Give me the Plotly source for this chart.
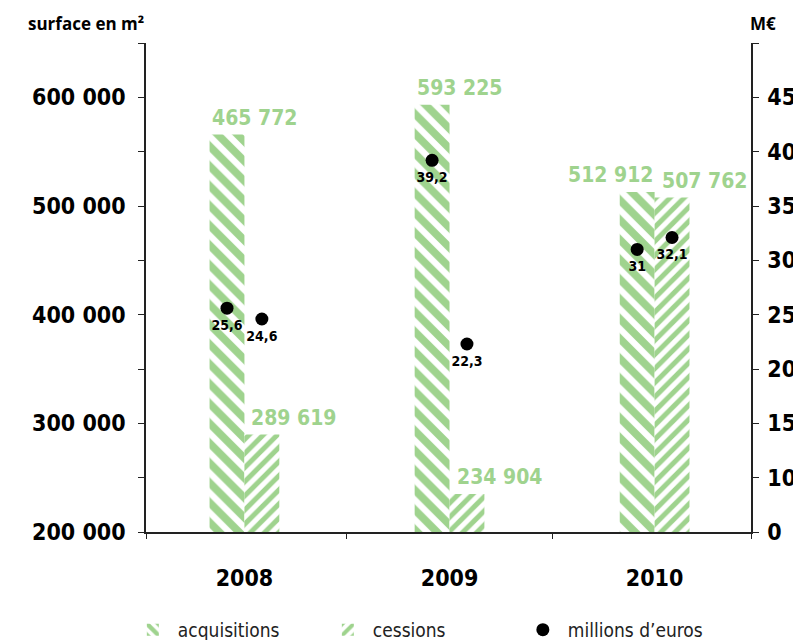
import plotly.graph_objects as go

# ---- data ----
years = ["2008", "2009", "2010"]
acquisitions = [565772, 593225, 512912]          # bar heights as drawn
acq_labels = ["465 772", "593 225", "512 912"]    # labels as printed
cessions = [289619, 234904, 507762]
cess_labels = ["289 619", "234 904", "507 762"]
acq_meur = [25.6, 39.2, 31.0]
cess_meur = [24.6, 22.3, 32.1]
acq_meur_labels = ["25,6", "39,2", "31"]
cess_meur_labels = ["24,6", "22,3", "32,1"]

left_ticks = [200000, 250000, 300000, 350000, 400000, 450000, 500000, 550000, 600000, 650000]
left_ticktext = ["200 000", "", "300 000", "", "400 000", "", "500 000", "", "600 000", ""]
right_ticks = [5, 10, 15, 20, 25, 30, 35, 40, 45, 50]
right_ticktext = ["0", "10", "15", "20", "25", "30", "35", "40", "45", ""]

GREEN = "#9fd38e"
NUM_FONT = "'DejaVu Sans Condensed', 'DejaVu Sans', sans-serif"
TXT_FONT = "'DejaVu Sans Condensed', 'Liberation Sans', sans-serif"
w = 0.17
idx = list(range(len(years)))
x_acq = [i - w / 2 for i in idx]
x_cess = [i + w / 2 for i in idx]

fig = go.Figure()
fig.add_trace(go.Bar(
    x=x_acq, y=acquisitions, width=w, name="acquisitions",
    marker=dict(color=GREEN, line=dict(width=0),
                pattern=dict(shape="\\", fgcolor=GREEN, bgcolor="white",
                             size=14, solidity=0.55, fillmode="replace")),
    hoverinfo="skip",
))
fig.add_trace(go.Bar(
    x=x_cess, y=cessions, width=w, name="cessions",
    marker=dict(color=GREEN, line=dict(width=0),
                pattern=dict(shape="/", fgcolor=GREEN, bgcolor="white",
                             size=10, solidity=0.5, fillmode="replace")),
    hoverinfo="skip",
))
fig.add_trace(go.Scatter(
    x=x_acq + x_cess, y=acq_meur + cess_meur, yaxis="y2",
    mode="markers", name="millions d’euros",
    marker=dict(color="black", size=13),
    hoverinfo="skip",
))
fig.add_trace(go.Scatter(
    x=x_acq + x_cess, y=acq_meur + cess_meur, yaxis="y2",
    mode="markers+text", showlegend=False,
    marker=dict(color="rgba(0,0,0,0)", size=16),
    text=acq_meur_labels + cess_meur_labels, textposition="bottom center",
    textfont=dict(family=NUM_FONT, size=14, color="black", weight="bold"),
    hoverinfo="skip",
))

annotations = []
acq_anchor = ["left", "left", "right"]
for i in idx:
    ax = i - w if acq_anchor[i] == "left" else i
    annotations.append(dict(
        x=ax, y=acquisitions[i], xref="x", yref="y", text=acq_labels[i],
        xanchor=acq_anchor[i], yanchor="bottom", showarrow=False, yshift=3,
        font=dict(family=NUM_FONT, size=21, color=GREEN, weight="bold")))
    annotations.append(dict(
        x=i, y=cessions[i], xref="x", yref="y", text=cess_labels[i],
        xanchor="left", yanchor="bottom", showarrow=False, yshift=3, xshift=5,
        font=dict(family=NUM_FONT, size=21, color=GREEN, weight="bold")))

annotations.append(dict(
    x=0, y=1.039, xref="paper", yref="paper", text="surface en m²",
    xanchor="right", yanchor="middle", showarrow=False,
    font=dict(family="Open Sans", size=17, color="black", weight="bold")))
annotations.append(dict(
    x=1, y=1.039, xref="paper", yref="paper", text="M€",
    xanchor="left", yanchor="middle", showarrow=False, xshift=-3,
    font=dict(family="Open Sans", size=17, color="black", weight="bold")))

fig.update_layout(
    width=793, height=632,
    margin=dict(l=138, r=50, t=35, b=108, autoexpand=False),
    plot_bgcolor="white", paper_bgcolor="white",
    barmode="overlay",
    showlegend=True,
    legend=dict(orientation="h", x=-0.03, xanchor="left", y=-0.2, yanchor="middle",
                font=dict(family=TXT_FONT, size=19, color="#222"),
                entrywidth=140, entrywidthmode="pixels", traceorder="normal",
                itemwidth=40),
    xaxis=dict(range=[-0.48, 2.47], tickvals=idx, ticktext=years,
               showline=True, linecolor="#222", linewidth=2, ticks="",
               showgrid=False, zeroline=False, ticklabelstandoff=24,
               tickfont=dict(family=NUM_FONT, size=23, color="black", weight="bold"),
               minor=dict(tickvals=[-0.48, 0.5, 1.5, 2.47], ticks="outside",
                          ticklen=5, tickcolor="#222", tickwidth=1, showgrid=False)),
    yaxis=dict(range=[200000, 650000], tickvals=left_ticks, ticktext=left_ticktext,
               showline=True, linecolor="#222", linewidth=1.5, ticks="outside",
               ticklen=6, tickcolor="#222", showgrid=False, zeroline=False,
               ticklabelstandoff=8,
               tickfont=dict(family=NUM_FONT, size=23, color="black", weight="bold")),
    yaxis2=dict(range=[5, 50], tickvals=right_ticks, ticktext=right_ticktext,
                overlaying="y", side="right", showline=True, linecolor="#222",
                linewidth=1.5, ticks="outside", ticklen=6, tickcolor="#222",
                showgrid=False, zeroline=False, ticklabelstandoff=4,
                tickfont=dict(family=NUM_FONT, size=23, color="black", weight="bold")),
    annotations=annotations,
)

fig.write_html("out.html")
